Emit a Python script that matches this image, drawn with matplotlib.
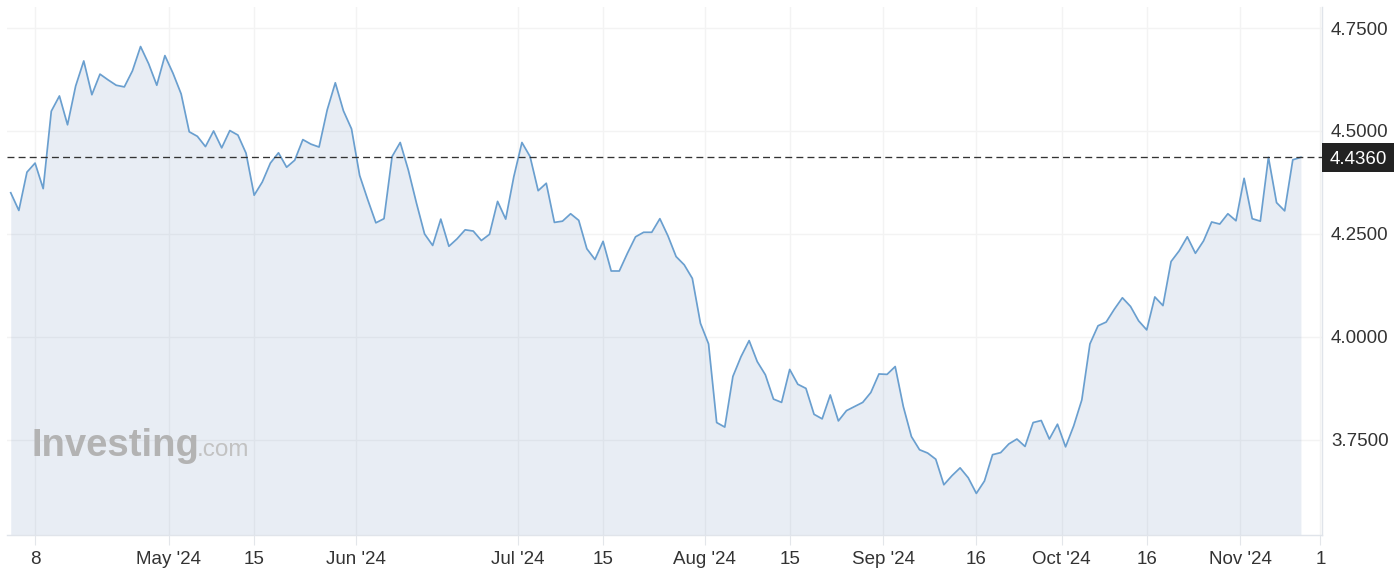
import numpy as np
import matplotlib
matplotlib.use("Agg")
import matplotlib.pyplot as plt
from matplotlib.patches import Rectangle

# ---------------- data (US 10Y yield, daily) ----------------
values = [
    4.350, 4.307, 4.400, 4.422, 4.360, 4.548, 4.585, 4.515, 4.609, 4.670,
    4.588, 4.638, 4.624, 4.611, 4.607, 4.646, 4.705, 4.663, 4.611, 4.683,
    4.640, 4.590, 4.498, 4.487, 4.462, 4.500, 4.459, 4.501, 4.490, 4.446,
    4.344, 4.376, 4.422, 4.447, 4.412, 4.429, 4.479, 4.468, 4.461, 4.551,
    4.617, 4.549, 4.505, 4.392, 4.333, 4.277, 4.287, 4.438, 4.472, 4.405,
    4.325, 4.250, 4.222, 4.286, 4.220, 4.238, 4.260, 4.257, 4.234, 4.249,
    4.329, 4.286, 4.389, 4.472, 4.438, 4.355, 4.373, 4.278, 4.281, 4.299,
    4.283, 4.214, 4.188, 4.232, 4.160, 4.160, 4.203, 4.243, 4.254, 4.254,
    4.287, 4.245, 4.195, 4.175, 4.142, 4.033, 3.983, 3.792, 3.781, 3.904,
    3.952, 3.991, 3.940, 3.908, 3.849, 3.841, 3.921, 3.885, 3.875, 3.812,
    3.801, 3.859, 3.796, 3.821, 3.831, 3.841, 3.865, 3.910, 3.909, 3.928,
    3.831, 3.758, 3.726, 3.718, 3.703, 3.641, 3.663, 3.682, 3.658, 3.620,
    3.650, 3.714, 3.719, 3.740, 3.752, 3.734, 3.792, 3.797, 3.752, 3.788,
    3.733, 3.784, 3.847, 3.983, 4.027, 4.036, 4.067, 4.095, 4.074, 4.039,
    4.017, 4.097, 4.076, 4.183, 4.209, 4.243, 4.203, 4.233, 4.279, 4.274,
    4.299, 4.282, 4.385, 4.287, 4.281, 4.436, 4.326, 4.306, 4.430, 4.436,
]
last_value = 4.436
x_tick_labels = ["8", "May '24", "15", "Jun '24", "Jul '24", "15", "Aug '24",
                 "15", "Sep '24", "16", "Oct '24", "16", "Nov '24", "1"]
y_ticks = [3.75, 4.00, 4.25, 4.50, 4.75]

# ---------------- axis layout ----------------
x_tick_pos = [3, 19.5, 30, 42.5, 62.5, 73, 85.5, 96, 107.5, 119, 129.5, 140, 151.5, 161.4]
x_lim = (-0.46, 161.6)
y_lim = (3.519, 4.801)

plt.rcParams["font.family"] = ["Liberation Sans", "DejaVu Sans"]
plt.rcParams["lines.scale_dashes"] = False

W, H = 1400, 588
fig = plt.figure(figsize=(W / 100, H / 100), dpi=100)
ax_l, ax_b, ax_w, ax_h = 7, 53, 1315, 528
ax = fig.add_axes([ax_l / W, ax_b / H, ax_w / W, ax_h / H])
ax.set_xlim(*x_lim)
ax.set_ylim(*y_lim)

x = np.arange(len(values))

ax.grid(True, color="#f3f3f3", lw=1.0, zorder=0)
ax.set_axisbelow(True)
ax.fill_between(x, values, y_lim[0], color="#4871ac", alpha=0.12, lw=0, zorder=1)
ax.plot(x, values, color="#6a9fcf", lw=1.25, zorder=2)
ax.axhline(last_value, color="#333333", lw=0.95, dashes=(5, 3), zorder=3)

ax.set_xticks(x_tick_pos)
ax.set_xticklabels(x_tick_labels)
ax.set_yticks(y_ticks)
ax.set_yticklabels([f"{v:.4f}" for v in y_ticks])
ax.yaxis.tick_right()
ax.tick_params(axis="y", length=0, pad=6.5, labelsize=13.5, labelcolor="#333333")
ax.tick_params(axis="x", length=7.5, width=0.8, color="#e3e6ea", pad=4,
               labelsize=13.5, labelcolor="#333333")

for s in ("top", "left"):
    ax.spines[s].set_visible(False)
for s in ("bottom", "right"):
    ax.spines[s].set_color("#e0e4ea")
    ax.spines[s].set_linewidth(1.0)

# last-value label box
px_y = ax.transData.transform((0, last_value))[1]
fig.add_artist(Rectangle(((ax_l + ax_w) / W, (px_y - 14.5) / H), 72 / W, 29 / H,
                         transform=fig.transFigure, fc="#222222", ec="none", zorder=10))
fig.text((ax_l + ax_w + 36) / W, px_y / H, f"{last_value:.4f}", ha="center",
         va="center_baseline", color="white", fontsize=13.5, zorder=11)

# watermark
fig.text(32 / W, (H - 456) / H, "Investing", fontsize=27.5, fontweight="bold",
         color="#b3b3b3", va="baseline", ha="left", zorder=5)
fig.text(197 / W, (H - 456) / H, ".com", fontsize=17.5, color="#c2c2c2",
         va="baseline", ha="left", zorder=5)

fig.savefig("out.png", dpi=100)
